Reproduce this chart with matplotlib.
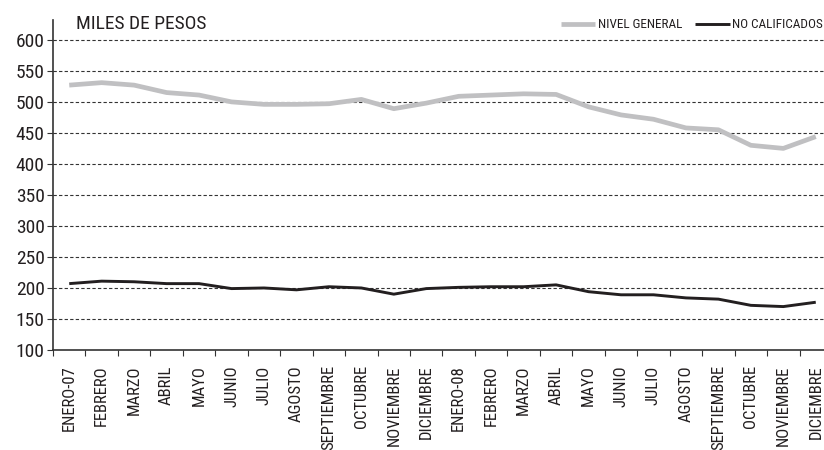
import matplotlib
matplotlib.use("Agg")
import matplotlib.pyplot as plt
from matplotlib import font_manager
import numpy as np

names = {f.name for f in font_manager.fontManager.ttflist}
FONT = "Roboto Condensed" if "Roboto Condensed" in names else "DejaVu Sans"
plt.rcParams['font.family'] = [FONT, 'DejaVu Sans']

categories = ["ENERO-07", "FEBRERO", "MARZO", "ABRIL", "MAYO", "JUNIO", "JULIO",
              "AGOSTO", "SEPTIEMBRE", "OCTUBRE", "NOVIEMBRE", "DICIEMBRE",
              "ENERO-08", "FEBRERO", "MARZO", "ABRIL", "MAYO", "JUNIO", "JULIO",
              "AGOSTO", "SEPTIEMBRE", "OCTUBRE", "NOVIEMBRE", "DICIEMBRE"]
nivel_general = [527, 531, 527, 515, 511, 500, 496, 496, 497, 504, 489, 498,
                 509, 511, 513, 512, 492, 479, 472, 458, 455, 430, 425, 444]
no_calificados = [207, 211, 210, 207, 207, 199, 200, 197, 202, 200, 190, 199,
                  201, 202, 202, 205, 194, 189, 189, 184, 182, 172, 170, 177]
yticks = [100, 150, 200, 250, 300, 350, 400, 450, 500, 550, 600]

fig = plt.figure(figsize=(8.24, 4.5), dpi=100)
W, H = 824, 450
left, right, top, bottom = 53, 832, 20, 350
ax = fig.add_axes([left / W, 1 - bottom / H, (right - left) / W, (bottom - top) / H])

x = np.arange(len(categories))
ax.plot(x, nivel_general, color="#c0c0c2", lw=3.4, solid_capstyle="butt", label="NIVEL GENERAL", zorder=3)
ax.plot(x, no_calificados, color="#231f20", lw=2.1, solid_capstyle="butt", label="NO CALIFICADOS", zorder=4)

ax.set_xlim(-0.5, len(categories) - 0.5)
ax.set_ylim(100, 632)
ax.set_yticks(yticks)
ax.set_yticklabels([str(v) for v in yticks], fontsize=14, color="#231f20")
for v in yticks[1:]:
    ax.axhline(v, color="#333333", lw=0.8, ls=(0, (3, 2)), zorder=1)

ax.set_xticks(x)
ax.set_xticklabels(categories, rotation=90, fontsize=12, color="#231f20")
ax.set_xticks(np.arange(len(categories) + 1) - 0.5, minor=True)
ax.tick_params(axis="x", which="major", length=0, pad=11)
ax.tick_params(axis="x", which="minor", length=4, color="#333333", width=0.8)
ax.tick_params(axis="y", length=4, color="#333333", width=0.8, pad=2)

for s in ["top", "right"]:
    ax.spines[s].set_visible(False)
for s in ["left", "bottom"]:
    ax.spines[s].set_color("#333333")
    ax.spines[s].set_linewidth(1.2)

fig.text(76 / W, 1 - 24 / H, "MILES DE PESOS", fontsize=14, color="#231f20", va="center", ha="left")

leg = fig.legend(loc="center right", bbox_to_anchor=(823 / W, 1 - 25 / H), ncol=2, frameon=False,
                 fontsize=9.5, handlelength=2.6, handletextpad=0.2, columnspacing=1.0,
                 borderaxespad=0, borderpad=0)
for t in leg.get_texts():
    t.set_color("#231f20")

fig.savefig("out.png", dpi=100)
